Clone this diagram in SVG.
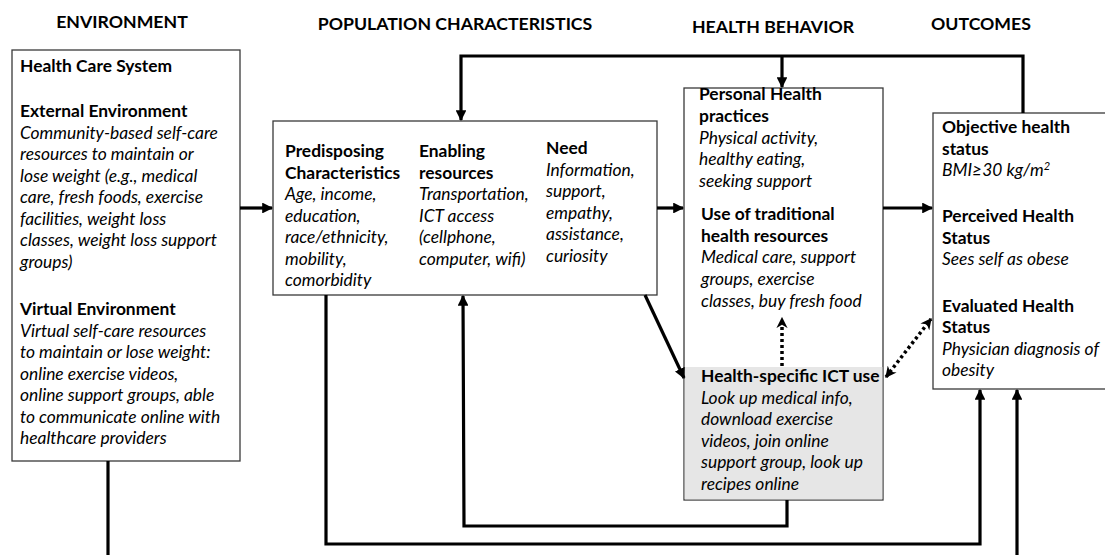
<svg xmlns="http://www.w3.org/2000/svg" width="1105" height="555" viewBox="0 0 1105 555">
  <style>
    text { font-family: Lato, "Open Sans", "Liberation Sans", sans-serif; font-size: 17.4px; fill: #000; }
    .h { font-weight: bold; font-size: 17.7px; }
    .b { font-weight: bold; }
    .i { font-style: italic; }
    .box { fill: #fff; stroke: #3a3a3a; stroke-width: 1.3; }
    .gray { fill: #e6e6e6; stroke: none; }
    .ln { fill: none; stroke: #000; stroke-width: 3.2; }
    .dot { fill: none; stroke: #000; stroke-width: 3.5; stroke-dasharray: 3 3; }
  </style>
  <defs>
    <marker id="ah" viewBox="0 0 10 10" refX="9" refY="5" markerWidth="3.4" markerHeight="3.4" orient="auto" markerUnits="strokeWidth">
      <path d="M0,0 L10,5 L0,10 z" fill="#000"/>
    </marker>
    <marker id="sh" viewBox="0 0 10 10" refX="9" refY="5" markerWidth="3.2" markerHeight="3.2" orient="auto-start-reverse" markerUnits="strokeWidth">
      <path d="M0,0 L10,5 L0,10 L3,5 z" fill="#000"/>
    </marker>
  </defs>

  <!-- column headings -->
  <g id="headings">
    <text class="h" x="122" y="28" text-anchor="middle">ENVIRONMENT</text>
    <text class="h" x="455" y="30" text-anchor="middle">POPULATION CHARACTERISTICS</text>
    <text class="h" x="773" y="33" text-anchor="middle">HEALTH BEHAVIOR</text>
    <text class="h" x="981" y="30" text-anchor="middle">OUTCOMES</text>
  </g>

  <!-- environment -->
  <g id="environment">
    <rect class="box" x="12" y="50" width="228" height="411"/>
    <text class="b" x="20" y="72">Health Care System</text>
    <text class="b" x="20" y="117">External Environment</text>
    <text class="i" x="20" y="138.5">Community-based self-care</text>
    <text class="i" x="20" y="160">resources to maintain or</text>
    <text class="i" x="20" y="181.5">lose weight (e.g., medical</text>
    <text class="i" x="20" y="203">care, fresh foods, exercise</text>
    <text class="i" x="20" y="224.5">facilities, weight loss</text>
    <text class="i" x="20" y="246">classes, weight loss support</text>
    <text class="i" x="20" y="267.5">groups)</text>
    <text class="b" x="20" y="315">Virtual Environment</text>
    <text class="i" x="20" y="336.5">Virtual self-care resources</text>
    <text class="i" x="20" y="358">to maintain or lose weight:</text>
    <text class="i" x="20" y="379.5">online exercise videos,</text>
    <text class="i" x="20" y="401">online support groups, able</text>
    <text class="i" x="20" y="422.5">to communicate online with</text>
    <text class="i" x="20" y="444">healthcare providers</text>
  </g>

  <!-- population characteristics -->
  <g id="population">
    <rect class="box" x="273" y="121" width="384" height="174"/>
    <text class="b" x="285" y="157">Predisposing</text>
    <text class="b" x="285" y="178.5">Characteristics</text>
    <text class="i" x="285" y="200">Age, income,</text>
    <text class="i" x="285" y="221.5">education,</text>
    <text class="i" x="285" y="243">race/ethnicity,</text>
    <text class="i" x="285" y="264.5">mobility,</text>
    <text class="i" x="285" y="286">comorbidity</text>
    <text class="b" x="419" y="157">Enabling</text>
    <text class="b" x="419" y="178.5">resources</text>
    <text class="i" x="419" y="200">Transportation,</text>
    <text class="i" x="419" y="221.5">ICT access</text>
    <text class="i" x="419" y="243">(cellphone,</text>
    <text class="i" x="419" y="264.5">computer, wifi)</text>
    <text class="b" x="546" y="154">Need</text>
    <text class="i" x="546" y="175.5">Information,</text>
    <text class="i" x="546" y="197">support,</text>
    <text class="i" x="546" y="218.5">empathy,</text>
    <text class="i" x="546" y="240">assistance,</text>
    <text class="i" x="546" y="261.5">curiosity</text>
  </g>

  <!-- health behavior -->
  <g id="behavior">
    <rect class="box" x="684" y="88" width="199" height="412"/>
    <rect class="gray" x="684.7" y="367" width="197.6" height="132.3"/>
    <text class="b" x="699" y="100">Personal Health</text>
    <text class="b" x="699" y="122">practices</text>
    <text class="i" x="699" y="143.5">Physical activity,</text>
    <text class="i" x="699" y="165">healthy eating,</text>
    <text class="i" x="699" y="186.5">seeking support</text>
    <text class="b" x="701" y="220">Use of traditional</text>
    <text class="b" x="701" y="241.5">health resources</text>
    <text class="i" x="701" y="263">Medical care, support</text>
    <text class="i" x="701" y="285">groups, exercise</text>
    <text class="i" x="701" y="307">classes, buy fresh food</text>
    <text class="b" x="701" y="382">Health-specific ICT use</text>
    <text class="i" x="701" y="403.5">Look up medical info,</text>
    <text class="i" x="701" y="425">download exercise</text>
    <text class="i" x="701" y="446.5">videos, join online</text>
    <text class="i" x="701" y="468">support group, look up</text>
    <text class="i" x="701" y="489.5">recipes online</text>
  </g>

  <!-- outcomes -->
  <g id="outcomes">
    <rect class="box" x="933" y="113" width="180" height="276"/>
    <text class="b" x="942" y="133">Objective health</text>
    <text class="b" x="942" y="155">status</text>
    <text class="i" x="942" y="176">BMI≥30 kg/m<tspan dy="-6" font-size="11">2</tspan></text>
    <text class="b" x="942" y="222">Perceived Health</text>
    <text class="b" x="942" y="243.5">Status</text>
    <text class="i" x="942" y="265">Sees self as obese</text>
    <text class="b" x="942" y="311.5">Evaluated Health</text>
    <text class="b" x="942" y="333">Status</text>
    <text class="i" x="942" y="354.5">Physician diagnosis of</text>
    <text class="i" x="942" y="376">obesity</text>
  </g>

  <!-- connectors -->
  <g id="connectors">
    <line class="ln" x1="240" y1="208" x2="272" y2="208" marker-end="url(#ah)"/>
    <line class="ln" x1="657" y1="208" x2="683" y2="208" marker-end="url(#ah)"/>
    <line class="ln" x1="883" y1="208" x2="932" y2="208" marker-end="url(#ah)"/>
    <line class="ln" x1="645" y1="295" x2="684" y2="378" marker-end="url(#ah)"/>
    <!-- feedback from outcomes across the top -->
    <polyline class="ln" points="1023,113 1023,56 461,56 461,120" marker-end="url(#ah)"/>
    <line class="ln" x1="782" y1="56" x2="782" y2="87" marker-end="url(#ah)"/>
    <!-- paths along the bottom -->
    <polyline class="ln" points="787,500 787,526 464,526 463,296" marker-end="url(#ah)"/>
    <polyline class="ln" points="326,295 326,544 980,544 980,390" marker-end="url(#ah)"/>
    <line class="ln" x1="1017" y1="555" x2="1017" y2="390" marker-end="url(#ah)"/>
    <line class="ln" x1="108" y1="461" x2="108" y2="555"/>
    <!-- dotted links -->
    <line class="dot" x1="782" y1="366" x2="782" y2="318" marker-end="url(#sh)"/>
    <line class="dot" x1="886" y1="377" x2="931" y2="319" marker-start="url(#sh)" marker-end="url(#sh)"/>
  </g>
</svg>
